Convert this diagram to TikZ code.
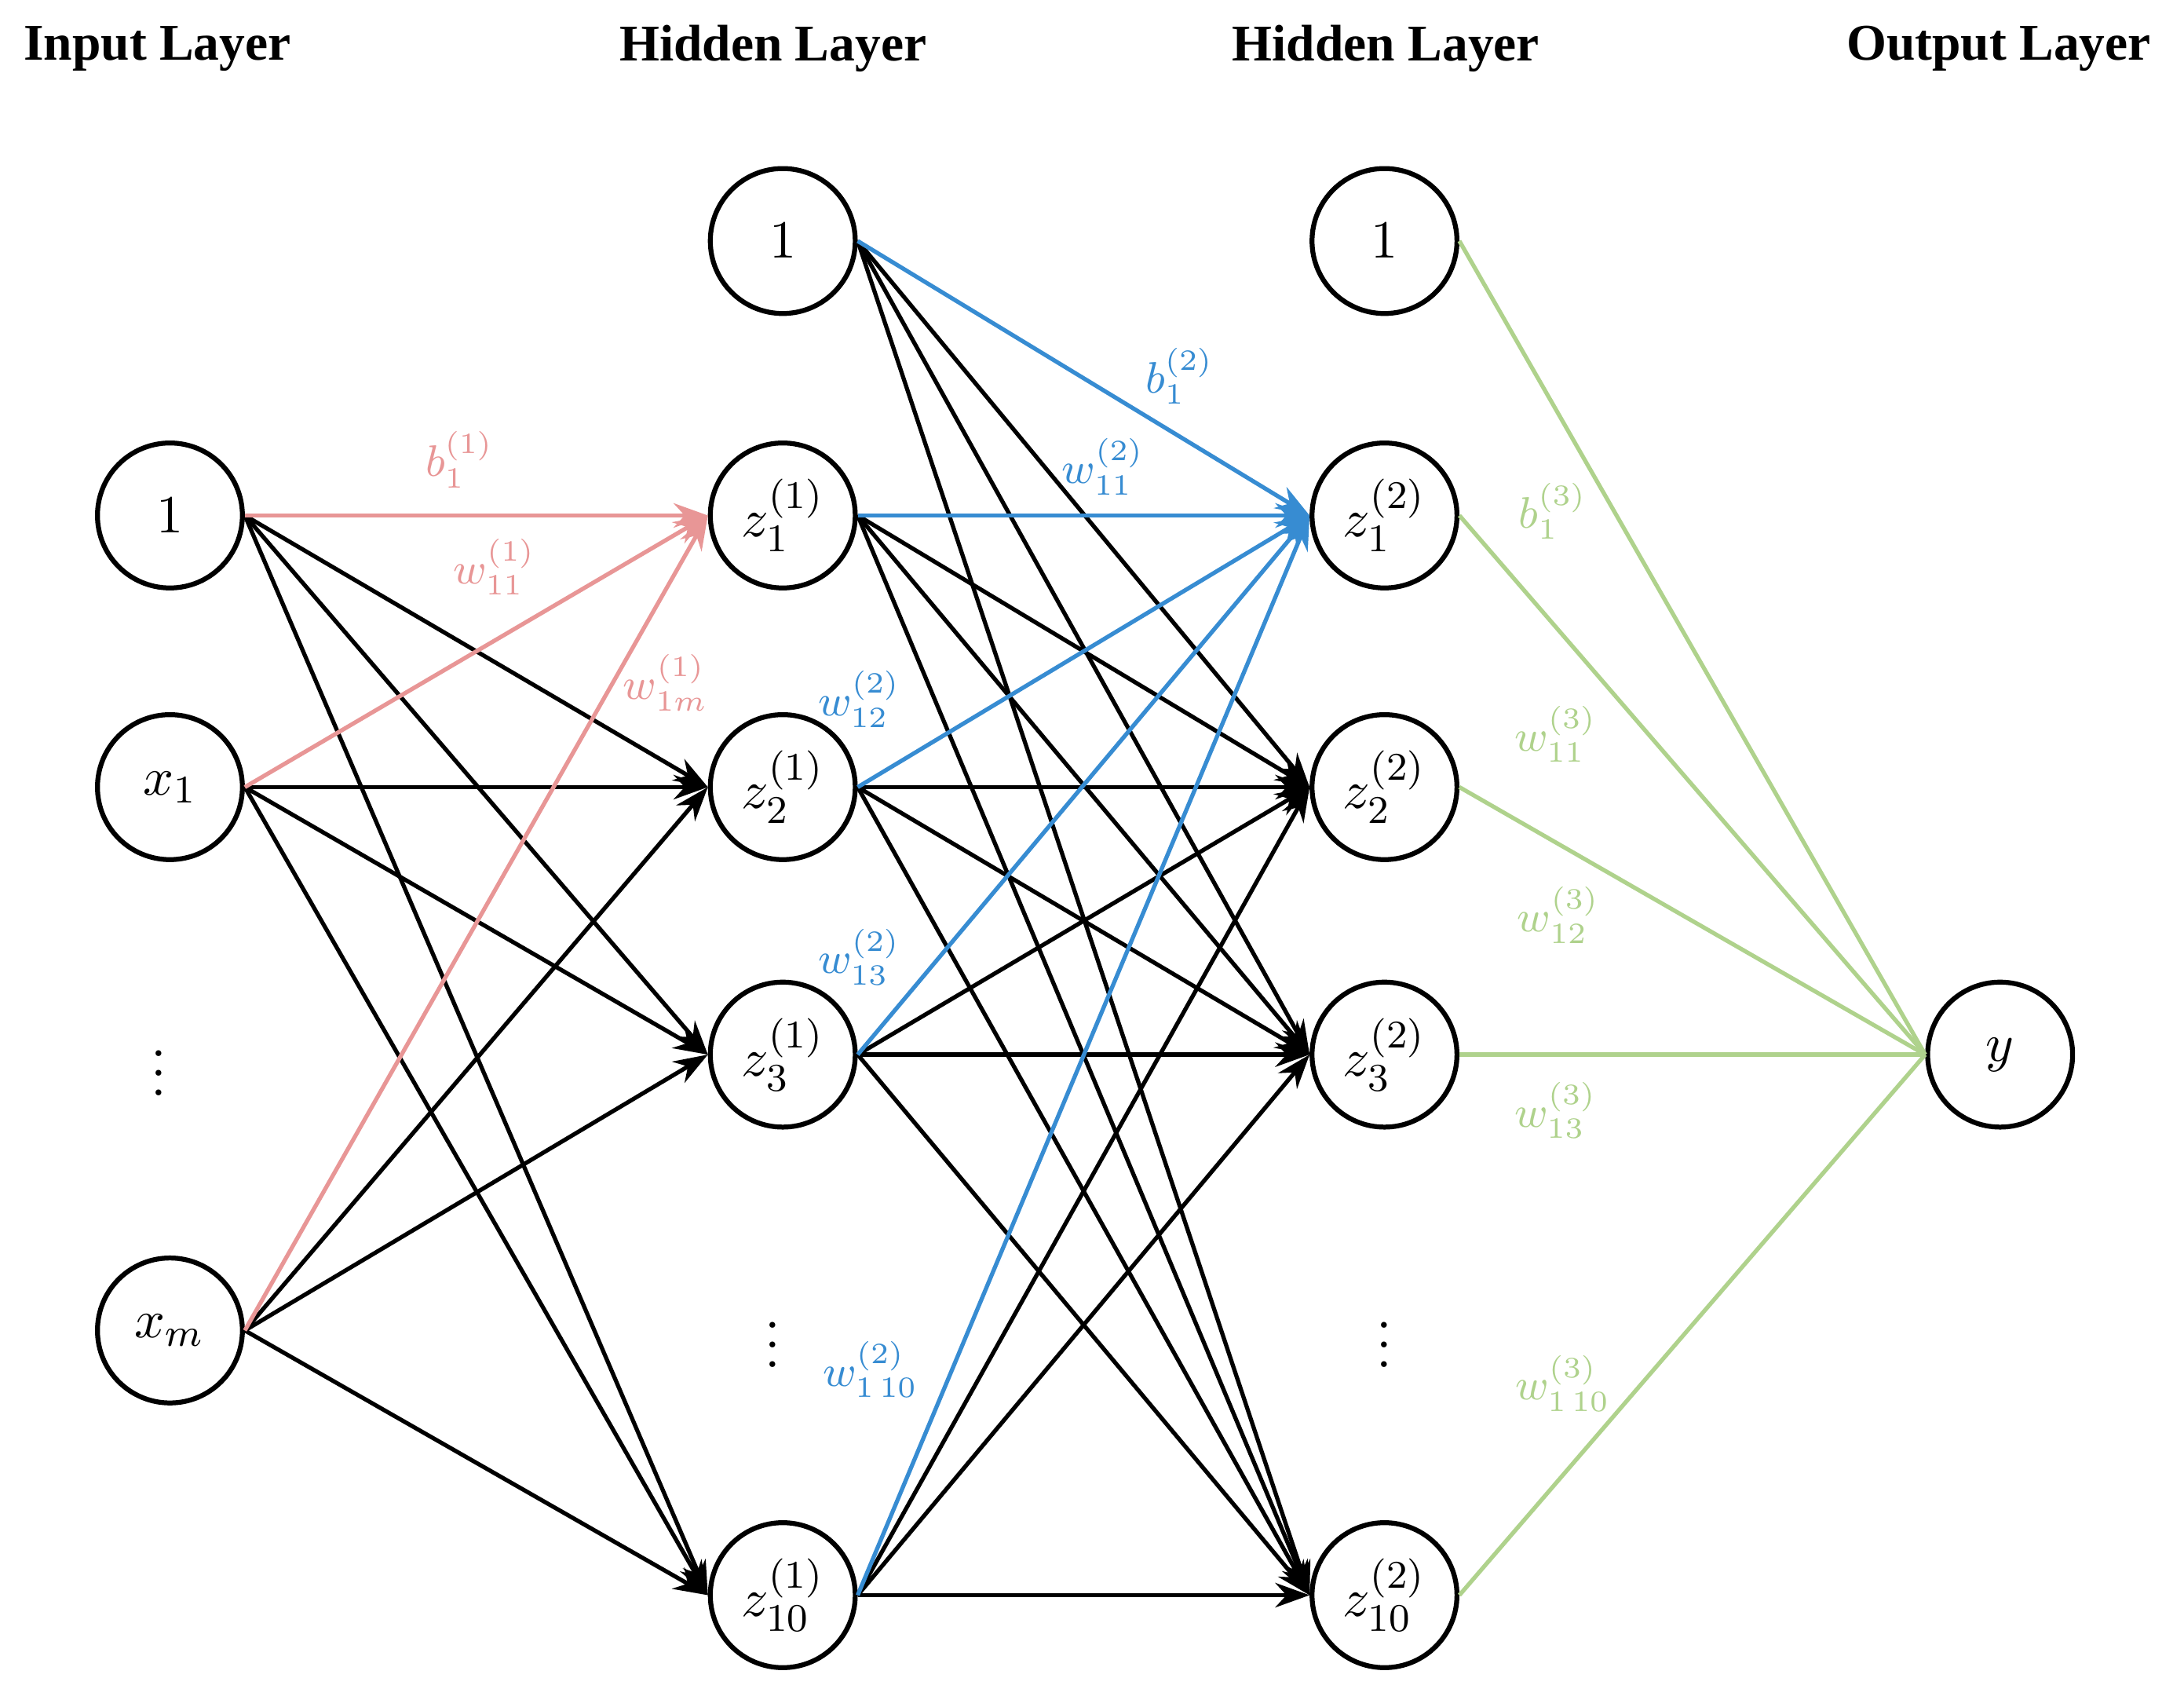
\documentclass[tikz,border=0pt]{standalone}
\usepackage{fontspec}
\setmainfont{Liberation Serif}
\usetikzlibrary{arrows.meta}
\definecolor{pk}{RGB}{232,150,150}
\definecolor{bl}{RGB}{55,140,210}
\definecolor{gr}{RGB}{175,210,140}
\begin{document}
\begin{tikzpicture}[x=0.01cm,y=-0.01cm,
 neu/.style={circle,draw,line width=1pt,minimum size=1.04cm,inner sep=0pt,font=\fontsize{11}{12}\selectfont},
 dt/.style={inner sep=0pt,font=\fontsize{10}{10}\selectfont},
 ttl/.style={font=\fontsize{10.5}{12}\selectfont\bfseries},
 e/.style={line width=0.85pt,-{Stealth[length=7pt,width=5pt]}},
 lb/.style={font=\fontsize{9}{10}\selectfont}]
\useasboundingbox (0,0) rectangle (1568,1212);
\node[ttl] (t1) at (113,35) {Input Layer};
\node[ttl] (t2) at (555,35) {Hidden Layer};
\node[ttl] (t3) at (995,35) {Hidden Layer};
\node[ttl] (t4) at (1435,35) {Output Layer};
% input
\node[neu] (a0) at (122,370) {$1$};
\node[neu] (a1) at (122,565) {$x_1$};
\node[dt] (ad) at (114,760) {$\vdots$};
\node[neu] (am) at (122,955) {$x_m$};
% hidden 1
\node[neu] (b0) at (562,173) {$1$};
\node[neu] (b1) at (562,370) {$z_1^{(1)}$};
\node[neu] (b2) at (562,565) {$z_2^{(1)}$};
\node[neu] (b3) at (562,757) {$z_3^{(1)}$};
\node[dt] (bd) at (555,955) {$\vdots$};
\node[neu] (b10) at (562,1145) {$z_{10}^{(1)}$};
% hidden 2
\node[neu] (c0) at (994,173) {$1$};
\node[neu] (c1) at (994,370) {$z_1^{(2)}$};
\node[neu] (c2) at (994,565) {$z_2^{(2)}$};
\node[neu] (c3) at (994,757) {$z_3^{(2)}$};
\node[dt] (cd) at (994,955) {$\vdots$};
\node[neu] (c10) at (994,1145) {$z_{10}^{(2)}$};
% output
\node[neu] (y) at (1436,757) {$y$};
% input->hidden1
\foreach \s in {a0,a1,am}{
 \foreach \t in {b2,b3,b10}{\draw[e] (\s.east) -- (\t.west);}
 \draw[e,pk] (\s.east) -- (b1.west);}
% hidden1->hidden2
\foreach \s in {b0,b1,b2,b3,b10}{
 \foreach \t in {c2,c3,c10}{\draw[e] (\s.east) -- (\t.west);}
 \draw[e,bl] (\s.east) -- (c1.west);}
% hidden2->output
\foreach \s in {c0,c1,c2,c3,c10}{\draw[gr,line width=0.85pt] (\s.east) -- (y.west);}
% labels
\node[lb,pk] (l1) at (330,330) {$b_1^{(1)}$};
\node[lb,pk] (l2) at (355,407) {$w_{11}^{(1)}$};
\node[lb,pk] (l3) at (478,490) {$w_{1m}^{(1)}$};
\node[lb,bl] (l4) at (847,270) {$b_1^{(2)}$};
\node[lb,bl] (l5) at (792,335) {$w_{11}^{(2)}$};
\node[lb,bl] (l6) at (617,502) {$w_{12}^{(2)}$};
\node[lb,bl] (l7) at (617,687) {$w_{13}^{(2)}$};
\node[lb,bl] (l8) at (625,983) {$w_{1\,10}^{(2)}$};
\node[lb,gr] (l9) at (1115,367) {$b_1^{(3)}$};
\node[lb,gr] (l10) at (1117,527) {$w_{11}^{(3)}$};
\node[lb,gr] (l11) at (1119,657) {$w_{12}^{(3)}$};
\node[lb,gr] (l12) at (1117,797) {$w_{13}^{(3)}$};
\node[lb,gr] (l13) at (1122,993) {$w_{1\,10}^{(3)}$};
\end{tikzpicture}
\end{document}
